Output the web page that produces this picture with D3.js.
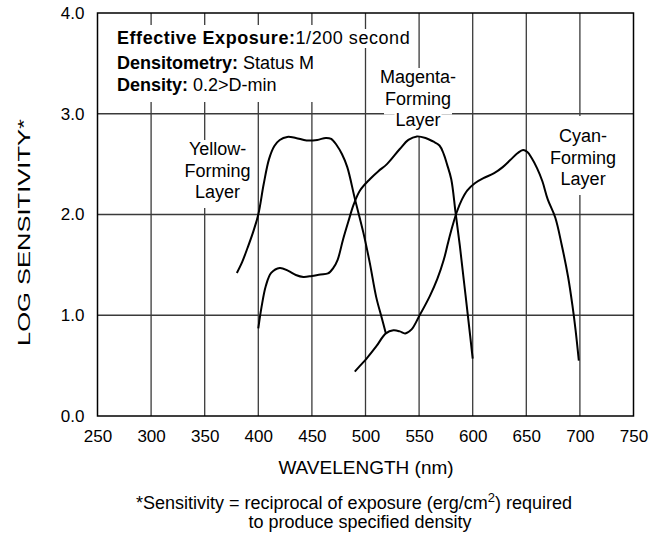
<!DOCTYPE html>
<html>
<head>
<meta charset="utf-8">
<script src="https://cdn.jsdelivr.net/npm/d3@7"></script>
<style>
  html, body { margin: 0; padding: 0; background: #fff; }
  svg { display: block; font-family: "Liberation Sans", Arial, Helvetica, sans-serif; }
</style>
</head>
<body>
<svg id="chart" width="665" height="539"></svg>
<script>
// ---- data ----
const xTickValues = [250, 300, 350, 400, 450, 500, 550, 600, 650, 700, 750];
const yTickValues = [0, 1, 2, 3, 4];
const yTickLabels = ["0.0", "1.0", "2.0", "3.0", "4.0"];

const yellowLayer = [
  [380,1.42],[385,1.53],[390,1.67],[395,1.82],[400,2.0],[405,2.3],[410,2.55],[415,2.68],
  [420,2.74],[427,2.77],[435,2.76],[445,2.735],[455,2.74],[463,2.76],[468,2.75],[473,2.69],
  [478,2.6],[483,2.47],[490,2.16],[498,1.82],[504,1.52],[510,1.18],[515,0.98],[519,0.82]
];
const magentaLayer = [
  [400,0.87],[403,1.08],[407,1.29],[412,1.42],[420,1.47],[428,1.44],[435,1.4],[442,1.38],
  [450,1.39],[458,1.405],[465,1.415],[470,1.47],[474,1.55],[479,1.75],[484,1.93],[489,2.1],
  [495,2.24],[504,2.35],[512,2.43],[520,2.5],[532,2.65],[540,2.74],[548,2.775],[556,2.76],
  [563,2.725],[569,2.685],[573,2.6],[576,2.5],[580,2.35],[584,2.02],[588,1.69],[592,1.32],
  [596,0.95],[600,0.57]
];
const cyanLayer = [
  [490,0.44],[495,0.5],[501,0.57],[510,0.69],[519,0.82],[526,0.85],[532,0.84],[537,0.82],
  [543,0.86],[550,0.99],[560,1.19],[567,1.36],[573,1.55],[577,1.72],[581,1.88],[585,2.02],
  [590,2.15],[595,2.24],[602,2.31],[610,2.36],[620,2.41],[628,2.47],[635,2.54],[642,2.61],
  [647,2.64],[651,2.62],[655,2.56],[660,2.46],[665,2.33],[670,2.15],[677,1.97],[683,1.7],
  [689,1.38],[693,1.1],[696,0.85],[699,0.55]
];
const curves = [yellowLayer, magentaLayer, cyanLayer];

const layerLabelLines = [
  ["Yellow-", "Forming", "Layer"],
  ["Magenta-", "Forming", "Layer"],
  ["Cyan-", "Forming", "Layer"]
];

const infoLines = [
  { bold: "Effective Exposure:", normal: "1/200 second" },
  { bold: "Densitometry:", normal: " Status M" },
  { bold: "Density:", normal: " 0.2>D-min" }
];

const xTitle = "WAVELENGTH (nm)";
const yTitle = "LOG SENSITIVITY*";
const footnoteMain = "*Sensitivity = reciprocal of exposure (erg/cm";
const footnoteSup = "2";
const footnoteTail = ") required";
const footnoteLine2 = "to produce specified density";

// ---- layout ----
const svg = d3.select("#chart");
const pL = 97.5, pR = 633.5, pT = 13, pB = 416;
const x = d3.scaleLinear().domain([250, 750]).range([pL, pR]);
const y = d3.scaleLinear().domain([0, 4]).range([pB, pT]);

svg.append("rect").attr("width", 665).attr("height", 539).attr("fill", "#fff");

// grid
const grid = svg.append("g").attr("stroke", "#3a3a3a").attr("stroke-width", 1.3);
grid.selectAll("line.v").data(xTickValues.slice(1, -1)).enter().append("line").attr("class", "v")
  .attr("x1", d => x(d)).attr("x2", d => x(d)).attr("y1", pT).attr("y2", pB);
grid.selectAll("line.h").data(yTickValues.slice(1, -1)).enter().append("line").attr("class", "h")
  .attr("x1", pL).attr("x2", pR).attr("y1", d => y(d)).attr("y2", d => y(d));

const bgLayer = svg.append("g");
const curveLayer = svg.append("g");
const textLayer = svg.append("g").attr("fill", "#000");

// info box
bgLayer.append("rect").attr("x", pL + 1.5).attr("y", 25).attr("width", 258).attr("height", 77).attr("fill", "#fff");
const infoBaselines = [44, 69, 91];
infoLines.forEach((ln, i) => {
  const t = textLayer.append("text").attr("x", 117).attr("y", infoBaselines[i]).attr("font-size", 18)
    .attr("letter-spacing", i === 0 ? 0.55 : 0);
  t.append("tspan").attr("font-weight", "bold").text(ln.bold);
  t.append("tspan").text(ln.normal);
  const bb = t.node().getBBox();
  bgLayer.append("rect").attr("x", bb.x - 2).attr("y", bb.y + 1).attr("width", bb.width + 4).attr("height", bb.height - 1).attr("fill", "#fff");
});

// layer labels (anchor wavelength, baselines, extra top padding of the white box)
const labelAnchorNm = [362, 549, 703];
const labelBaselines = [[155, 176.5, 198], [83, 104.5, 126], [142, 163.5, 185]];
const labelTopPad = [0, 0, 11];
layerLabelLines.forEach((lines, i) => {
  lines.forEach((s, j) => {
    const t = textLayer.append("text").attr("x", x(labelAnchorNm[i])).attr("y", labelBaselines[i][j])
      .attr("text-anchor", "middle").attr("font-size", 18).text(s);
    const bb = t.node().getBBox();
    const extra = j === 0 ? labelTopPad[i] : 0;
    bgLayer.append("rect").attr("x", bb.x - 1).attr("y", bb.y + 1 - extra)
      .attr("width", bb.width + 2).attr("height", bb.height + 5 + extra).attr("fill", "#fff");
  });
});

// curves
const line = d3.line().x(d => x(d[0])).y(d => y(d[1])).curve(d3.curveCatmullRom.alpha(0.5));
curveLayer.selectAll("path").data(curves).enter().append("path")
  .attr("d", line).attr("fill", "none").attr("stroke", "#000").attr("stroke-width", 2).attr("stroke-linejoin", "round");

// frame
svg.append("rect").attr("x", pL).attr("y", pT).attr("width", pR - pL).attr("height", pB - pT)
  .attr("fill", "none").attr("stroke", "#000").attr("stroke-width", 1.5);

// axes
const xAxis = d3.axisBottom(x).tickValues(xTickValues).tickSize(0).tickPadding(14).tickFormat(d3.format("d"));
const xg = svg.append("g").attr("transform", `translate(0,${pB})`).call(xAxis);
xg.select(".domain").remove();
xg.selectAll("text").attr("font-size", 17).attr("fill", "#000");
xg.attr("font-family", null).attr("font-size", null);

const yAxis = d3.axisLeft(y).tickValues(yTickValues).tickSize(0).tickPadding(13).tickFormat((d, i) => yTickLabels[i]);
const yg = svg.append("g").attr("transform", `translate(${pL},0)`).call(yAxis);
yg.select(".domain").remove();
yg.selectAll("text").attr("font-size", 17).attr("fill", "#000");
yg.attr("font-family", null).attr("font-size", null);

// titles
svg.append("text").attr("x", 366).attr("y", 474).attr("text-anchor", "middle")
  .attr("font-size", 19).text(xTitle);
svg.append("text").attr("transform", "translate(30,232.5) rotate(-90)").attr("text-anchor", "middle")
  .attr("font-size", 17).attr("textLength", 227).attr("lengthAdjust", "spacingAndGlyphs").text(yTitle);

// footnote
const fn = svg.append("text").attr("x", 354).attr("y", 509).attr("text-anchor", "middle").attr("font-size", 18);
fn.append("tspan").text(footnoteMain);
fn.append("tspan").attr("dy", -7).attr("font-size", 13).text(footnoteSup);
fn.append("tspan").attr("dy", 7).text(footnoteTail);
svg.append("text").attr("x", 360).attr("y", 528).attr("text-anchor", "middle").attr("font-size", 18)
  .text(footnoteLine2);
</script>
</body>
</html>
